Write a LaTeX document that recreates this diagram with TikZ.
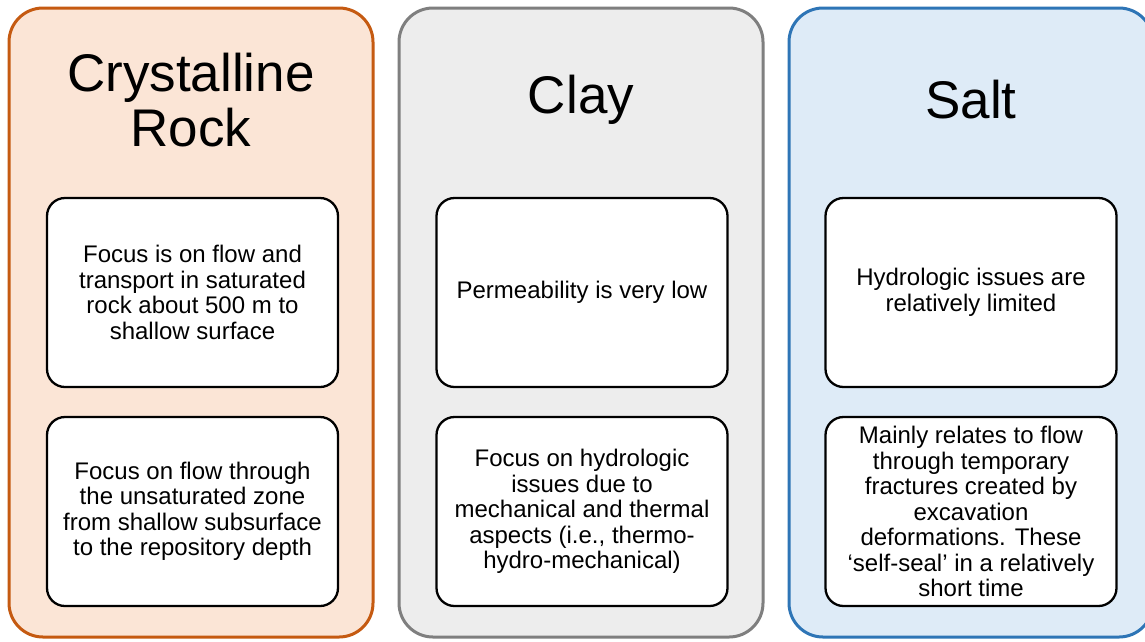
\documentclass[tikz,border=0pt]{standalone}
\usepackage{fontspec}
\setmainfont{Liberation Sans}
\definecolor{rockline}{HTML}{C55A11}
\definecolor{rockfill}{HTML}{FBE5D6}
\definecolor{clayline}{HTML}{7F7F7F}
\definecolor{clayfill}{HTML}{EDEDED}
\definecolor{saltline}{HTML}{2E75B6}
\definecolor{saltfill}{HTML}{DEEBF7}
\newcommand{\titlefont}{\fontsize{53}{55}\selectfont}
\newcommand{\bodyfont}{\fontsize{24}{25.5}\selectfont}
\tikzset{
  panel/.style={draw, line width=3pt, rounded corners=34pt,
    minimum width=364pt, minimum height=629pt, inner sep=0pt},
  heading/.style={font=\titlefont, align=center, inner sep=0pt},
  itembox/.style={draw=black, fill=white, line width=2.3pt, rounded corners=18pt,
    minimum width=291pt, minimum height=189pt, inner sep=0pt,
    align=center, font=\bodyfont}
}
\begin{document}
\begin{tikzpicture}[x=1pt, y=-1pt]
\useasboundingbox (0,0) rectangle (1145,641);
\clip (0,0) rectangle (1145,641);
\fill[white] (0,0) rectangle (1145,641);

% columns
\node[panel, draw=rockline, fill=rockfill] (rock) at (191,322.5) {};
\node[panel, draw=clayline, fill=clayfill] (clay) at (581,322.5) {};
\node[panel, draw=saltline, fill=saltfill] (salt) at (971,322.5) {};

% column headings
\node[heading] (rockT) at (191,100) {Crystalline\\Rock};
\node[heading] (clayT) at (581,100) {Clay};
\node[heading] (saltT) at (971,100) {Salt};

% crystalline rock items
\node[itembox] (rock1) at (192.5,292.5) {Focus is on flow and\\transport in saturated\\rock about 500 m to\\shallow surface};
\node[itembox] (rock2) at (192.5,511.5) {Focus on flow through\\the unsaturated zone\\from shallow subsurface\\to the repository depth};

% clay items
\node[itembox] (clay1) at (582,292.5) {Permeability is very low};
\node[itembox] (clay2) at (582,511.5) {Focus on hydrologic\\issues due to\\mechanical and thermal\\aspects (i.e., thermo-\\hydro-mechanical)};

% salt items
\node[itembox] (salt1) at (971,292.5) {Hydrologic issues are\\relatively limited};
\node[itembox] (salt2) at (971,511.5) {Mainly relates to flow\\through temporary\\fractures created by\\excavation\\deformations. These\\‘self-seal’ in a relatively\\short time};
\end{tikzpicture}
\end{document}
